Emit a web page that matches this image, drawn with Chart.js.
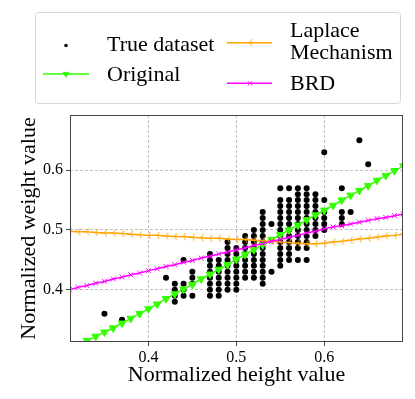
<!DOCTYPE html>
<html>
<head>
<meta charset="utf-8">
<script src="https://cdn.jsdelivr.net/npm/chart.js@4"></script>
<style>
  html, body { margin: 0; padding: 0; background: #fff; }
  #wrap { width: 415px; height: 399px; position: relative; }
</style>
</head>
<body>
<div id="wrap"><canvas id="c" width="415" height="399"></canvas></div>
<script>
// ---------- data ----------
const trueHeights = [0.35, 0.37, 0.42, 0.43, 0.44, 0.45, 0.47, 0.48, 0.49, 0.50, 0.51, 0.52, 0.53, 0.54, 0.55, 0.56, 0.57, 0.58, 0.59, 0.60, 0.62, 0.63, 0.64, 0.65];
const trueWeights = [
  [0.36],
  [0.35],
  [0.42],
  [0.41, 0.40, 0.39, 0.38],
  [0.45, 0.41, 0.40, 0.39],
  [0.43, 0.42, 0.41, 0.39],
  [0.46, 0.45, 0.44, 0.43, 0.42, 0.41, 0.40, 0.39],
  [0.45, 0.44, 0.43, 0.42, 0.41, 0.40, 0.39],
  [0.48, 0.47, 0.46, 0.45, 0.44, 0.43, 0.42, 0.41, 0.40],
  [0.47, 0.46, 0.45, 0.44, 0.43, 0.42, 0.41, 0.40],
  [0.49, 0.48, 0.47, 0.46, 0.45, 0.44, 0.43, 0.42],
  [0.50, 0.49, 0.48, 0.47, 0.46, 0.45, 0.44, 0.43, 0.42],
  [0.53, 0.52, 0.51, 0.50, 0.49, 0.48, 0.47, 0.46, 0.45, 0.44, 0.43, 0.42, 0.41],
  [0.51, 0.43],
  [0.57, 0.55, 0.54, 0.53, 0.52, 0.51, 0.50, 0.49, 0.48, 0.47, 0.46, 0.45, 0.44],
  [0.57, 0.55, 0.54, 0.53, 0.52, 0.51, 0.50, 0.49, 0.48, 0.47, 0.46, 0.45],
  [0.57, 0.56, 0.55, 0.54, 0.53, 0.52, 0.51, 0.50, 0.49, 0.48, 0.47, 0.45],
  [0.57, 0.56, 0.55, 0.54, 0.53, 0.52, 0.51, 0.50, 0.49, 0.48, 0.47, 0.45],
  [0.56, 0.55, 0.54, 0.53, 0.52, 0.51, 0.50, 0.49],
  [0.63, 0.55, 0.53, 0.52, 0.51, 0.50],
  [0.57, 0.53, 0.52, 0.51],
  [0.53],
  [0.65],
  [0.61]
];

const lineHeights = [0.31, 0.32, 0.33, 0.34, 0.35, 0.36, 0.37, 0.38, 0.39, 0.40,
                     0.41, 0.42, 0.43, 0.44, 0.45, 0.46, 0.47, 0.48, 0.49, 0.50,
                     0.51, 0.52, 0.53, 0.54, 0.55, 0.56, 0.57, 0.58, 0.59, 0.60,
                     0.61, 0.62, 0.63, 0.64, 0.65, 0.66, 0.67, 0.68, 0.69];
const originalWeights = [0.301, 0.308, 0.315, 0.322, 0.329, 0.336, 0.344, 0.352, 0.360, 0.368,
                         0.376, 0.385, 0.393, 0.401, 0.409, 0.418, 0.426, 0.434, 0.442, 0.451,
                         0.459, 0.467, 0.475, 0.484, 0.492, 0.500, 0.508, 0.517, 0.525, 0.533,
                         0.541, 0.550, 0.558, 0.566, 0.574, 0.583, 0.591, 0.599, 0.607];
const laplaceWeights = [0.498, 0.497, 0.497, 0.496, 0.495, 0.495, 0.494, 0.493, 0.492, 0.491,
                        0.491, 0.490, 0.489, 0.489, 0.488, 0.487, 0.486, 0.486, 0.485, 0.484,
                        0.484, 0.483, 0.482, 0.481, 0.480, 0.479, 0.478, 0.477, 0.477, 0.478,
                        0.480, 0.481, 0.483, 0.485, 0.486, 0.488, 0.490, 0.491, 0.493];
const brdWeights = [0.400, 0.404, 0.407, 0.411, 0.414, 0.418, 0.421, 0.425, 0.428, 0.432,
                    0.435, 0.439, 0.442, 0.446, 0.449, 0.453, 0.456, 0.460, 0.463, 0.467,
                    0.470, 0.474, 0.477, 0.481, 0.484, 0.488, 0.491, 0.495, 0.498, 0.502,
                    0.505, 0.507, 0.510, 0.513, 0.516, 0.519, 0.521, 0.524, 0.527];

const seriesLabels = ['True dataset', 'Original', 'Laplace\nMechanism', 'BRD'];
const xTickValues = [0.4, 0.5, 0.6];
const yTickValues = [0.4, 0.5, 0.6];
const xTitle = 'Normalized height value';
const yTitle = 'Normalized weight value';

// ---------- build ----------
const scatterPts = [];
trueHeights.forEach((h, i) => trueWeights[i].forEach(w => scatterPts.push({x: h, y: w})));
const toPts = ys => lineHeights.map((h, i) => ({x: h, y: ys[i]}));

const GREEN = '#33ff00', ORANGE = '#ffa500', MAGENTA = '#ff00ff';
const SERIF = "'Liberation Serif', 'Times New Roman', serif";

function triLeft(color, size) {
  const c = document.createElement('canvas');
  c.width = size; c.height = size;
  const g = c.getContext('2d');
  const m = size / 2, r = size / 2 - 0.5;
  g.strokeStyle = color; g.lineWidth = 1;
  g.beginPath();
  g.moveTo(m, m); g.lineTo(m - r, m);
  g.moveTo(m, m); g.lineTo(m + r * 0.5, m - r * 0.866);
  g.moveTo(m, m); g.lineTo(m + r * 0.5, m + r * 0.866);
  g.stroke();
  return c;
}
const triLeftImg = triLeft(ORANGE, 9);

const datasets = [
  { label: seriesLabels[0], data: scatterPts, showLine: false, pointStyle: 'circle',
    pointRadius: 3, pointBackgroundColor: '#000', pointBorderWidth: 0, order: 4 },
  { label: seriesLabels[1], data: toPts(originalWeights), showLine: true, borderColor: GREEN,
    borderWidth: 1.5, pointStyle: 'triangle', rotation: 180, pointRadius: 4.4,
    pointBackgroundColor: GREEN, pointBorderColor: GREEN, pointBorderWidth: 1, order: 3 },
  { label: seriesLabels[2], data: toPts(laplaceWeights), showLine: true, borderColor: ORANGE,
    borderWidth: 1.5, pointStyle: triLeftImg, pointRadius: 4, order: 2 },
  { label: seriesLabels[3], data: toPts(brdWeights), showLine: true, borderColor: MAGENTA,
    borderWidth: 1.5, pointStyle: 'crossRot', pointRadius: 3.5,
    pointBorderColor: MAGENTA, pointBorderWidth: 1, order: 1 }
];

const framePlugin = {
  id: 'frame',
  afterDraw(chart) {
    const {ctx, chartArea: a} = chart;
    ctx.save();
    ctx.strokeStyle = '#444';
    ctx.lineWidth = 1;
    ctx.strokeRect(Math.round(a.left) + 0.5, Math.round(a.top) + 0.5,
                   Math.round(a.right - a.left) - 1, Math.round(a.bottom - a.top) - 1);
    ctx.restore();
  }
};

const legendPlugin = {
  id: 'customLegend',
  afterDraw(chart) {
    const ctx = chart.ctx;
    const H = Chart.helpers;
    ctx.save();
    // box
    ctx.beginPath();
    const bx = 35.5, by = 12.5, bw = 365, bh = 91, r = 3;
    ctx.moveTo(bx + r, by);
    ctx.arcTo(bx + bw, by, bx + bw, by + bh, r);
    ctx.arcTo(bx + bw, by + bh, bx, by + bh, r);
    ctx.arcTo(bx, by + bh, bx, by, r);
    ctx.arcTo(bx, by, bx + bw, by, r);
    ctx.closePath();
    ctx.fillStyle = 'rgba(255,255,255,0.8)';
    ctx.fill();
    ctx.strokeStyle = '#d6d6d6';
    ctx.lineWidth = 1;
    ctx.stroke();

    const drawLineHandle = (x1, x2, y, color) => {
      ctx.beginPath();
      ctx.strokeStyle = color; ctx.lineWidth = 1.5;
      ctx.moveTo(x1, y); ctx.lineTo(x2, y); ctx.stroke();
    };
    const marker = (opts, color, x, y) => {
      ctx.fillStyle = color; ctx.strokeStyle = color; ctx.lineWidth = opts.borderWidth || 1;
      H.drawPoint(ctx, opts, x, y);
    };
    // True dataset
    marker({pointStyle: 'circle', radius: 1.8, borderWidth: 0}, '#000', 66, 45.5);
    // Original
    drawLineHandle(43, 89, 74, GREEN);
    marker({pointStyle: 'triangle', rotation: 180, radius: 3.2, borderWidth: 1}, GREEN, 66, 74);
    // Laplace
    drawLineHandle(227, 272, 42.7, ORANGE);
    marker({pointStyle: triLeftImg, radius: 4, borderWidth: 1}, ORANGE, 250, 42.7);
    // BRD
    drawLineHandle(227, 272, 83.3, MAGENTA);
    marker({pointStyle: 'crossRot', radius: 3, borderWidth: 1}, MAGENTA, 250, 83.3);

    ctx.fillStyle = '#000';
    ctx.font = '22px ' + SERIF;
    ctx.textBaseline = 'alphabetic';
    ctx.textAlign = 'left';
    ctx.fillText(seriesLabels[0], 107, 50.7);
    ctx.fillText(seriesLabels[1], 107, 81);
    const lap = seriesLabels[2].split('\n');
    ctx.fillText(lap[0], 290, 36.7);
    ctx.fillText(lap[1], 290, 59.3);
    ctx.fillText(seriesLabels[3], 290, 90);
    ctx.restore();
  }
};

const tickFont = {family: SERIF, size: 16};
const titleFont = {family: SERIF, size: 22};

new Chart(document.getElementById('c'), {
  type: 'scatter',
  data: { datasets },
  options: {
    responsive: false,
    animation: false,
    devicePixelRatio: 1,
    layout: { padding: {top: 115, right: 12, bottom: 0, left: 0} },
    plugins: { legend: {display: false}, tooltip: {enabled: false} },
    elements: { line: {tension: 0} },
    scales: {
      x: {
        type: 'linear', min: 0.3108, max: 0.6896,
        afterBuildTicks: s => { s.ticks = xTickValues.map(v => ({value: v})); },
        afterFit: s => { s.height = 57; },
        ticks: { callback: v => Number(v).toFixed(1), font: tickFont, color: '#000', padding: 2, maxRotation: 0 },
        grid: { color: '#b0b0b0', lineWidth: 0.8, tickColor: '#444', tickLength: 4, tickWidth: 1 },
        border: { display: false, dash: [3, 2] },
        title: { display: true, text: xTitle, font: titleFont, color: '#000', padding: {top: 0, bottom: 11} }
      },
      y: {
        type: 'linear', min: 0.3126, max: 0.6924,
        afterBuildTicks: s => { s.ticks = yTickValues.map(v => ({value: v})); },
        afterFit: s => { s.width = 70; },
        ticks: { callback: v => Number(v).toFixed(1), font: tickFont, color: '#000', padding: 3 },
        grid: { color: '#b0b0b0', lineWidth: 0.8, tickColor: '#444', tickLength: 4, tickWidth: 1 },
        border: { display: false, dash: [3, 2] },
        title: { display: true, text: yTitle, font: titleFont, color: '#000', padding: {top: 16, bottom: 0} }
      }
    }
  },
  plugins: [framePlugin, legendPlugin]
});
</script>
</body>
</html>
